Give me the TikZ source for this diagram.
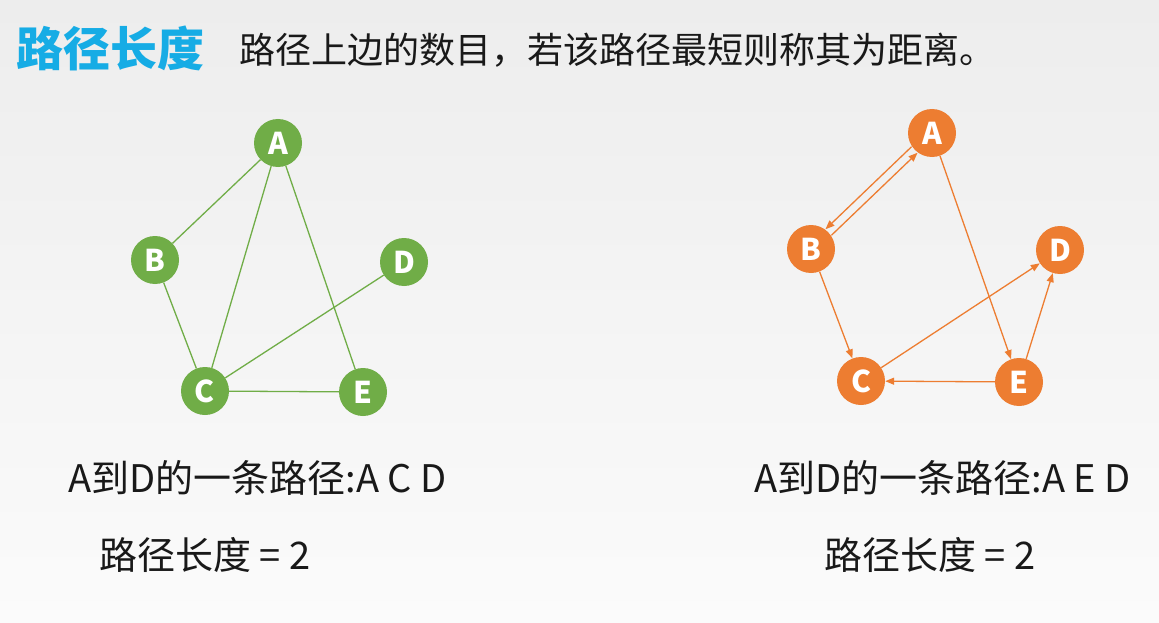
\documentclass[tikz,border=0pt]{standalone}
\usepackage{fontspec}
\usepackage{xcolor}
\usetikzlibrary{arrows.meta, positioning}
\newfontfamily\cjk{Noto Sans CJK SC}
\definecolor{titleblue}{RGB}{22,172,229}
\definecolor{leafgreen}{RGB}{112,173,71}
\definecolor{warmorange}{RGB}{237,125,49}
\definecolor{inkgray}{RGB}{25,25,25}

\begin{document}
\begin{tikzpicture}[x=1pt,y=-1pt,
    vert/.style={circle,minimum size=48pt,inner sep=0pt,text=white,font=\cjk\bfseries\fontsize{30}{32}\selectfont},
    gv/.style={vert,fill=leafgreen},
    ov/.style={vert,fill=warmorange},
    gedge/.style={leafgreen,line width=1.3pt},
    oedge/.style={warmorange,line width=1.3pt,-{Triangle[length=9pt,width=7pt]}},
    txt/.style={anchor=west,inner sep=0pt,text=inkgray,font=\cjk\fontsize{38}{40}\selectfont}]
    \shade[top color={rgb,255:red,237;green,237;blue,237},bottom color={rgb,255:red,251;green,251;blue,251}] (0,0) rectangle (1159,623);
    \useasboundingbox (0,0) rectangle (1159,623);

    \node[anchor=west,inner sep=0pt,text=titleblue,font=\cjk\bfseries\fontsize{47}{50}\selectfont] (title) at (16,48) {路径长度};
    \node[anchor=west,inner sep=0pt,text=inkgray,font=\cjk\fontsize{36}{38}\selectfont] (subtitle) at (239,50) {路径上边的数目，若该路径最短则称其为距离。};

    \node[gv] (gA) at (278,143) {A};
    \node[gv] (gB) at (155,260) {B};
    \node[gv] (gD) at (404,262) {D};
    \node[gv] (gC) at (205,391) {C};
    \node[gv] (gE) at (363,392) {E};
    \draw[gedge] (gA) -- (gB);
    \draw[gedge] (gA) -- (gC);
    \draw[gedge] (gA) -- (gE);
    \draw[gedge] (gB) -- (gC);
    \draw[gedge] (gC) -- (gD);
    \draw[gedge] (gC) -- (gE);

    \node[ov] (oA) at (932,133) {A};
    \node[ov] (oB) at (811,249) {B};
    \node[ov] (oD) at (1060,250) {D};
    \node[ov] (oC) at (861,381) {C};
    \node[ov] (oE) at (1019,382) {E};
    \draw[oedge,transform canvas={xshift=-3pt,yshift=3pt}] (oA) -- (oB);
    \draw[oedge,transform canvas={xshift=3pt,yshift=-3pt}] (oB) -- (oA);
    \draw[oedge] (oA) -- (oE);
    \draw[oedge] (oB) -- (oC);
    \draw[oedge] (oC) -- (oD);
    \draw[oedge] (oE) -- (oC);
    \draw[oedge] (oE) -- (oD);

    \node[txt] (lpath) at (68,478) {A到D的一条路径:A C D};
    \node[txt] (llen) at (99,555) {路径长度 = 2};
    \node[txt] (rpath) at (754,478) {A到D的一条路径:A E D};
    \node[txt] (rlen) at (824,555) {路径长度 = 2};
\end{tikzpicture}
\end{document}
